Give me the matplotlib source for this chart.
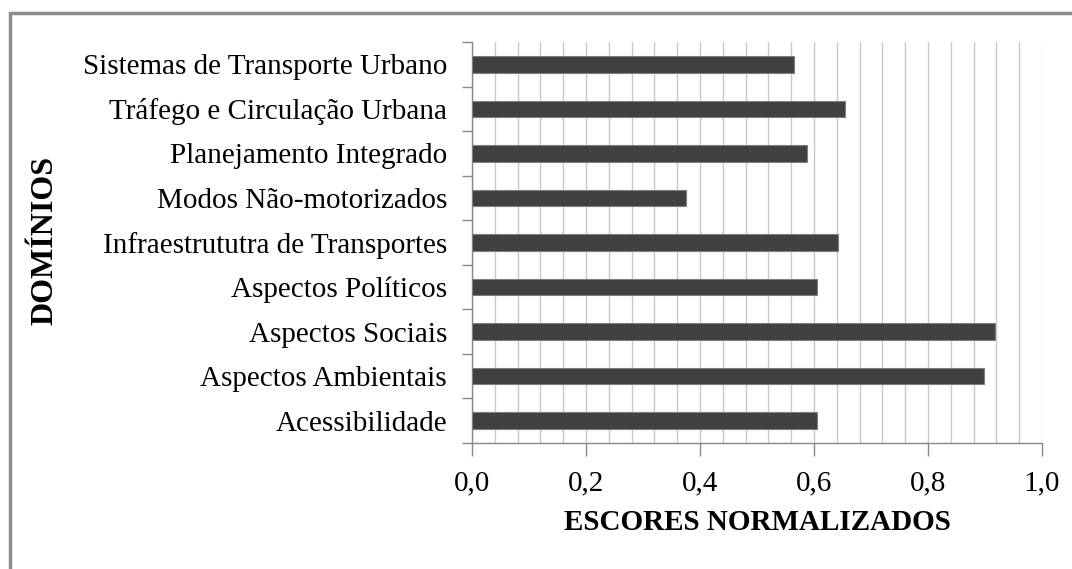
import numpy as np
import matplotlib.pyplot as plt
from matplotlib.patches import Rectangle
from matplotlib.ticker import MultipleLocator, FixedLocator

dominios = ['Acessibilidade', 'Aspectos Ambientais', 'Aspectos Sociais',
            'Aspectos Políticos', 'Infraestrututra de Transportes',
            'Modos Não-motorizados', 'Planejamento Integrado',
            'Tráfego e Circulação Urbana', 'Sistemas de Transporte Urbano']
escores = [0.606, 0.898, 0.917, 0.606, 0.642, 0.375, 0.587, 0.654, 0.565]
xticks = [0.0, 0.2, 0.4, 0.6, 0.8, 1.0]
xlabels = ['0,0', '0,2', '0,4', '0,6', '0,8', '1,0']

plt.rcParams['font.family'] = ['Liberation Serif', 'DejaVu Serif']

fig = plt.figure(figsize=(10.72, 5.69), dpi=100)
# outer frame of the original picture
fig.patches.append(Rectangle((10 / 1072, -0.05), 1.1, (569 - 13) / 569 + 0.05,
                             transform=fig.transFigure, fill=False,
                             ec='#8c8c8c', lw=2.5))

ax = fig.add_axes([472 / 1072, (569 - 443) / 569, 570 / 1072, 401 / 569])
y = np.arange(len(dominios))
ax.barh(y, escores, height=0.37, color='#404040', edgecolor='#7f7f7f', lw=0.8, zorder=3)

ax.set_xlim(0, 1.0)
ax.set_ylim(-0.5, len(dominios) - 0.5)
ax.set_xticks(xticks)
ax.set_xticklabels(xlabels)
ax.xaxis.set_minor_locator(MultipleLocator(0.04))
ax.grid(axis='x', which='both', color='#c8c8c8', lw=1, zorder=0)

ax.set_yticks(y)
ax.set_yticklabels(dominios)
ax.yaxis.set_minor_locator(FixedLocator(np.arange(-0.5, len(dominios), 1.0)))
ax.tick_params(axis='y', which='major', length=0, pad=18, labelsize=21)
ax.tick_params(axis='y', which='minor', length=7, width=1, color='#888888')
ax.tick_params(axis='x', which='major', length=9, width=1, color='#888888',
               labelsize=21, pad=11)
ax.tick_params(axis='x', which='minor', length=0)

for s in ['top', 'right']:
    ax.spines[s].set_visible(False)
for s in ['left', 'bottom']:
    ax.spines[s].set_color('#888888')
    ax.spines[s].set_linewidth(1)

fig.text(757 / 1072, (569 - 523) / 569, 'ESCORES NORMALIZADOS', ha='center',
         va='center', fontsize=21, fontweight='bold')
fig.text(45 / 1072, (569 - 240) / 569, 'DOMÍNIOS', ha='center', va='center',
         rotation=90, fontsize=23, fontweight='bold')

fig.savefig('out.png', dpi=100)
